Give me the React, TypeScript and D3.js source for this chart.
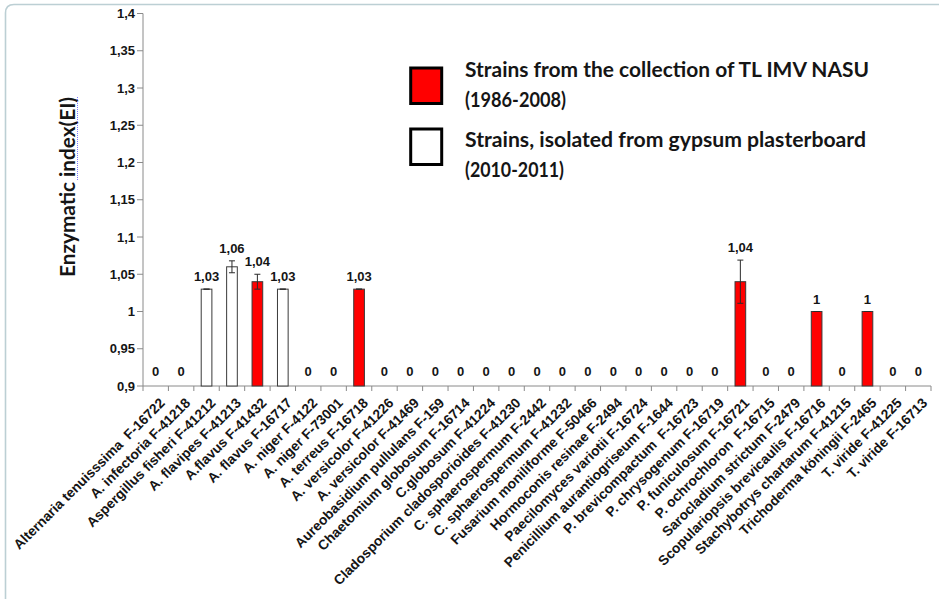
import React from "react";
import * as d3 from "d3";

// Strains tested, in axis order
const strains: string[] = [
  "Alternaria tenuisssima  F-16722",
  "A. infectoria F-41218",
  "Aspergillus fisheri F-41212",
  "A. flavipes F-41213",
  "A.flavus F-41432",
  "A. flavus F-16717",
  "A. niger F-4122",
  "A. niger F-73001",
  "A. terreus F-16718",
  "A. versicolor F-41226",
  "A. versicolor F-41469",
  "Aureobasidium pullulans F-159",
  "Chaetomium globosum F-16714",
  "C.globosum F-41224",
  "Cladosporium cladosporioides F-41230",
  "C. sphaerospermum F-2442",
  "C. sphaerospermum F-41232",
  "Fusarium moniliforme F-50466",
  "Hormoconis resinae F-2494",
  "Paecilomyces variotii F-16724",
  "Penicillium aurantiogriseum F-1644",
  "P. brevicompactum  F-16723",
  "P. chrysogenum F-16719",
  "P. funiculosum F-16721",
  "P. ochrochloron  F-16715",
  "Sarocladium strictum F-2479",
  "Scopulariopsis brevicaulis F-16716",
  "Stachybotrys chartarum F-41215",
  "Trichoderma köningii F-2465",
  "T. viride F-41225",
  "T. viride F-16713",
];

// Enzymatic index per strain (0 = no activity)
const enzymaticIndex: number[] = [
  0, 0, 1.03, 1.06, 1.04, 1.03, 0, 0, 1.03, 0, 0, 0, 0, 0, 0, 0,
  0, 0, 0, 0, 0, 0, 0, 1.04, 0, 0, 1.0, 0, 1.0, 0, 0,
];

// Standard deviation per strain
const stdDev: number[] = [
  0, 0, 0, 0.008, 0.01, 0, 0, 0, 0, 0, 0, 0, 0, 0, 0, 0,
  0, 0, 0, 0, 0, 0, 0, 0.029, 0, 0, 0, 0, 0, 0, 0,
];

// Strain origin: "c" = collection of TL IMV NASU, "g" = gypsum plasterboard isolate
const origin: string[] = [
  "c", "c", "g", "g", "c", "g", "c", "c", "c", "c", "c", "c", "c", "c", "c", "c",
  "c", "c", "c", "c", "c", "c", "c", "c", "c", "c", "c", "c", "c", "c", "c",
];

const yTicks: number[] = [0.9, 0.95, 1, 1.05, 1.1, 1.15, 1.2, 1.25, 1.3, 1.35, 1.4];

const legendItems: { key: string; lines: string[] }[] = [
  { key: "c", lines: ["Strains from the collection of TL IMV NASU", "(1986-2008)"] },
  { key: "g", lines: ["Strains, isolated from gypsum plasterboard", "(2010-2011)"] },
];

const W = 939;
const H = 599;
const AXIS = "#8a8a8a";
const INK = "#151515";
const ARIAL = "'Liberation Sans', Arial, sans-serif";
const HUMANIST = "Lato, 'Open Sans', sans-serif";

const fillFor = (k: string) => (k === "c" ? "#ff0000" : "#ffffff");
const fmt = (v: number) => String(+v.toFixed(2)).replace(".", ",");

export default function App() {
  const x = d3.scaleBand<string>().domain(strains).range([143, 931]).padding(0);
  const y = d3.scaleLinear().domain([0.9, 1.4]).range([386, 13.5]);
  const step = x.step();
  const barW = step * 0.42;
  const y0 = y(0.9);

  const legendTextLen = [[404, 101], [401, 99]];
  const legendBase = [[76.7, 107.3], [146.7, 176.7]];
  const legendBoxY = [68, 129];

  return (
    <svg
      width={W}
      height={H}
      viewBox={`0 0 ${W} ${H}`}
      style={{ position: "absolute", left: 0, top: 0, background: "#fff" }}
    >
      {/* outer frame, top and left edges */}
      <path
        d={`M5.5,${H} V13 Q5.5,4.5 14,4.5 H${W}`}
        fill="none"
        stroke="#bccfd4"
        strokeWidth={1.6}
      />

      {/* y axis */}
      <line x1={143} x2={143} y1={y(1.4)} y2={y0} stroke={AXIS} strokeWidth={1} />
      {yTicks.map((t) => (
        <g key={t}>
          <line x1={137} x2={143} y1={y(t)} y2={y(t)} stroke={AXIS} strokeWidth={1} />
          <text
            x={135}
            y={y(t)}
            dy="0.35em"
            textAnchor="end"
            fontFamily={ARIAL}
            fontWeight={700}
            fontSize={13}
            fill={INK}
          >
            {fmt(t)}
          </text>
        </g>
      ))}

      {/* y axis title */}
      <text
        transform={`translate(75,187) rotate(-90)`}
        textAnchor="middle"
        fontFamily={HUMANIST}
        fontWeight={700}
        fontSize={20}
        textLength={180}
        lengthAdjust="spacingAndGlyphs"
        fill={INK}
      >
        Enzymatic index(EI)
      </text>
      <line x1={77.5} x2={77.5} y1={97} y2={181} stroke="#7a7aff" strokeWidth={1} strokeDasharray="1,1" />

      {/* x axis */}
      <line x1={143} x2={931} y1={y0} y2={y0} stroke={AXIS} strokeWidth={1} />
      {d3.range(strains.length + 1).map((i) => {
        const tx = 143 + i * step;
        return <line key={i} x1={tx} x2={tx} y1={y0} y2={y0 + 5} stroke={AXIS} strokeWidth={1} />;
      })}

      {/* bars, error bars and value labels */}
      {strains.map((s, i) => {
        const v = enzymaticIndex[i];
        const e = stdDev[i];
        const cx = (x(s) as number) + step / 2;
        const hasBar = v > 0.9;
        const labelY = hasBar ? y(v + e) - 8 : y0 - 10;
        return (
          <g key={s}>
            {hasBar && (
              <rect
                x={cx - barW / 2}
                y={y(v)}
                width={barW}
                height={y0 - y(v)}
                fill={fillFor(origin[i])}
                stroke="#3a3a3a"
                strokeWidth={1}
              />
            )}
            {hasBar && (
              <g stroke="#2a2a2a" strokeWidth={1}>
                <line x1={cx} x2={cx} y1={y(v + e)} y2={y(v - e)} />
                <line x1={cx - 3} x2={cx + 3} y1={y(v + e)} y2={y(v + e)} />
                <line x1={cx - 3} x2={cx + 3} y1={y(v - e)} y2={y(v - e)} />
              </g>
            )}
            <text
              x={cx}
              y={labelY}
              textAnchor="middle"
              fontFamily={ARIAL}
              fontWeight={700}
              fontSize={13}
              fill={INK}
            >
              {fmt(v)}
            </text>
          </g>
        );
      })}

      {/* category labels */}
      {strains.map((s) => {
        const cx = (x(s) as number) + step / 2;
        return (
          <text
            key={s}
            transform={`translate(${cx + 3},${y0 + 11}) rotate(-45)`}
            textAnchor="end"
            dy="0.71em"
            fontFamily={ARIAL}
            fontWeight={700}
            fontSize={13.8}
            fill={INK}
            style={{ whiteSpace: "pre" }}
          >
            {s}
          </text>
        );
      })}

      {/* legend */}
      {legendItems.map((item, k) => (
        <g key={item.key}>
          <rect
            x={410.7}
            y={legendBoxY[k]}
            width={31}
            height={35.5}
            fill={fillFor(item.key)}
            stroke="#000"
            strokeWidth={3}
          />
          {item.lines.map((line, j) => (
            <text
              key={j}
              x={465}
              y={legendBase[k][j]}
              fontFamily={HUMANIST}
              fontWeight={700}
              fontSize={20}
              textLength={legendTextLen[k][j]}
              lengthAdjust="spacingAndGlyphs"
              fill={INK}
            >
              {line}
            </text>
          ))}
        </g>
      ))}
    </svg>
  );
}
